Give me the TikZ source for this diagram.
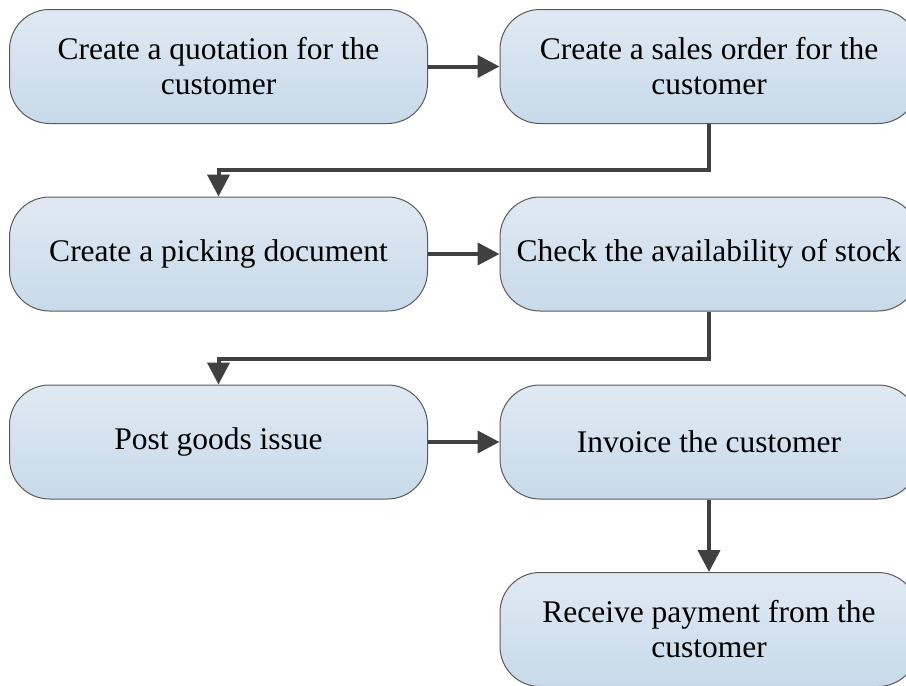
\documentclass[tikz,border=0pt]{standalone}
\usepackage{fontspec}
\setmainfont{Liberation Serif}
\usetikzlibrary{arrows.meta,calc}

\definecolor{boxtop}{RGB}{224,233,243}
\definecolor{boxbot}{RGB}{200,218,234}
\definecolor{boxline}{RGB}{90,90,90}
\definecolor{flow}{RGB}{64,64,64}

\tikzset{
  stepbox/.style={
    draw=boxline, line width=1pt, rounded corners=40pt,
    top color=boxtop, bottom color=boxbot,
    minimum width=418pt, minimum height=114pt,
    text width=410pt, align=flush center, inner sep=0pt,
    font=\fontsize{31.5}{35}\selectfont
  },
  flowline/.style={
    draw=flow, line width=4pt,
    -{Triangle[length=22pt,width=22pt]}, color=flow
  }
}

\begin{document}
\begin{tikzpicture}[x=1pt,y=-1pt]
  \clip (0,0) rectangle (906,686);

  % process steps, left and right columns
  \node[stepbox] (quote)   at (218.5,66.5) {Create a quotation for the\\customer};
  \node[stepbox] (order)   at (709,66.5)   {Create a sales order for the\\customer};
  \node[stepbox] (pick)    at (218.5,254)  {Create a picking document};
  \node[stepbox] (stock)   at (709,254)    {Check the availability of stock};
  \node[stepbox] (goods)   at (218.5,442)  {Post goods issue};
  \node[stepbox] (invoice) at (709,442)    {Invoice the customer};
  \node[stepbox] (pay)     at (709,629.5)  {Receive payment from the\\customer};

  % elbow turning points between rows
  \coordinate (turnA) at (709,170);
  \coordinate (turnB) at (709,359);

  % connectors
  \draw[flowline] (quote.east) -- (order.west);
  \draw[flowline] (order.south) -- (turnA) -| (pick.north);
  \draw[flowline] (pick.east) -- (stock.west);
  \draw[flowline] (stock.south) -- (turnB) -| (goods.north);
  \draw[flowline] (goods.east) -- (invoice.west);
  \draw[flowline] (invoice.south) -- (pay.north);
\end{tikzpicture}
\end{document}
